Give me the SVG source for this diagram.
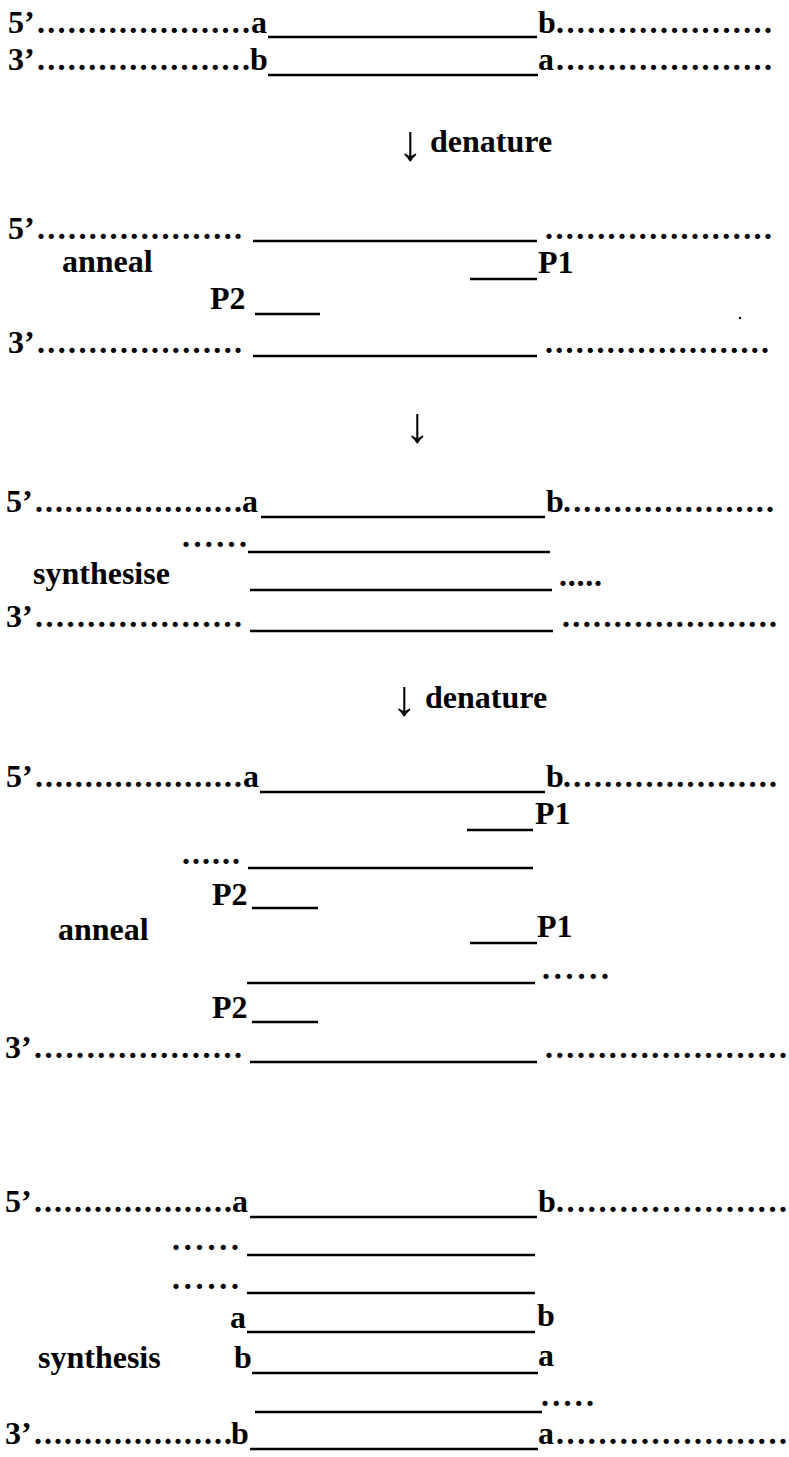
<svg xmlns="http://www.w3.org/2000/svg" width="789" height="1457" viewBox="0 0 789 1457">
<style>
.t{font-family:"Liberation Serif","Times New Roman",serif;font-weight:bold;font-size:32px;fill:#000}
.d{font-family:"Liberation Serif","Times New Roman",serif;font-weight:bold;font-size:32px;fill:#000}
.ar{font-family:"Liberation Serif","Times New Roman",serif;font-size:50px;fill:#000}
.s{stroke:#000;stroke-width:2.5;fill:none}
</style>
<rect width="789" height="1457" fill="#fff"/>
<g id="section1">
 <g id="s1-top">
  <text class="t" x="8" y="33">5’</text>
  <text class="d" x="37" y="33" textLength="213" lengthAdjust="spacing">.....................</text>
  <text class="t" x="251" y="33">a</text>
  <line class="s" x1="268" y1="37" x2="537" y2="37"/>
  <text class="t" x="538" y="33">b</text>
  <text class="d" x="556" y="33" textLength="216" lengthAdjust="spacing">.....................</text>
 </g>
 <g id="s1-bottom">
  <text class="t" x="8" y="70">3’</text>
  <text class="d" x="37" y="70" textLength="213" lengthAdjust="spacing">.....................</text>
  <text class="t" x="250" y="70">b</text>
  <line class="s" x1="268" y1="75" x2="538" y2="75"/>
  <text class="t" x="538" y="70">a</text>
  <text class="d" x="556" y="70" textLength="216" lengthAdjust="spacing">.....................</text>
 </g>
</g>
<g id="section2">
 <g id="s2-top">
  <text class="t" x="8" y="239">5’</text>
  <text class="d" x="37" y="239" textLength="205" lengthAdjust="spacing">....................</text>
  <line class="s" x1="253" y1="241" x2="537" y2="241"/>
  <text class="d" x="545" y="239" textLength="227" lengthAdjust="spacing">......................</text>
 </g>
 <text class="t" x="62" y="272">anneal</text>
 <g id="s2-p1">
  <line class="s" x1="470" y1="279" x2="537" y2="279"/>
  <text class="t" x="538" y="273">P1</text>
 </g>
 <g id="s2-p2">
  <text class="t" x="210" y="309">P2</text>
  <line class="s" x1="255" y1="314" x2="320" y2="314"/>
 </g>
 <circle cx="740" cy="318" r="1.2" fill="#000"/>
 <g id="s2-bottom">
  <text class="t" x="8" y="353">3’</text>
  <text class="d" x="37" y="353" textLength="205" lengthAdjust="spacing">....................</text>
  <line class="s" x1="253" y1="356" x2="537" y2="356"/>
  <text class="d" x="545" y="353" textLength="224" lengthAdjust="spacing">......................</text>
 </g>
</g>
<g id="section3">
 <g id="s3-top">
  <text class="t" x="6" y="512">5’</text>
  <text class="d" x="35" y="512" textLength="207" lengthAdjust="spacing">.....................</text>
  <text class="t" x="242" y="512">a</text>
  <line class="s" x1="261" y1="517" x2="545" y2="517"/>
  <text class="t" x="546" y="512">b</text>
  <text class="d" x="563" y="512" textLength="211" lengthAdjust="spacing">.....................</text>
 </g>
 <g id="s3-new1">
  <text class="d" x="182" y="547" textLength="65" lengthAdjust="spacing">......</text>
  <line class="s" x1="248" y1="552" x2="550" y2="552"/>
 </g>
 <text class="t" x="33" y="584">synthesise</text>
 <g id="s3-new2">
  <line class="s" x1="250" y1="590" x2="552" y2="590"/>
  <text class="d" x="559" y="586" textLength="43" lengthAdjust="spacing">.....</text>
 </g>
 <g id="s3-bottom">
  <text class="t" x="6" y="627">3’</text>
  <text class="d" x="35" y="627" textLength="207" lengthAdjust="spacing">....................</text>
  <line class="s" x1="250" y1="631" x2="553" y2="631"/>
  <text class="d" x="562" y="627" textLength="215" lengthAdjust="spacing">.....................</text>
 </g>
</g>
<g id="section4">
 <g id="s4-top">
  <text class="t" x="6" y="787">5’</text>
  <text class="d" x="35" y="787" textLength="207" lengthAdjust="spacing">.....................</text>
  <text class="t" x="243" y="787">a</text>
  <line class="s" x1="260" y1="792" x2="545" y2="792"/>
  <text class="t" x="546" y="787">b</text>
  <text class="d" x="563" y="787" textLength="214" lengthAdjust="spacing">.....................</text>
 </g>
 <g id="s4-p1a">
  <line class="s" x1="467" y1="830" x2="533" y2="830"/>
  <text class="t" x="535" y="824">P1</text>
 </g>
 <g id="s4-strand1">
  <text class="d" x="182" y="864" textLength="58" lengthAdjust="spacing">......</text>
  <line class="s" x1="248" y1="868" x2="533" y2="868"/>
 </g>
 <g id="s4-p2a">
  <text class="t" x="212" y="905">P2</text>
  <line class="s" x1="252" y1="908" x2="318" y2="908"/>
 </g>
 <text class="t" x="58" y="940">anneal</text>
 <g id="s4-p1b">
  <line class="s" x1="470" y1="943" x2="537" y2="943"/>
  <text class="t" x="537" y="937">P1</text>
 </g>
 <g id="s4-strand2">
  <line class="s" x1="247" y1="983" x2="535" y2="983"/>
  <text class="d" x="542" y="979" textLength="67" lengthAdjust="spacing">......</text>
 </g>
 <g id="s4-p2b">
  <text class="t" x="212" y="1018">P2</text>
  <line class="s" x1="252" y1="1022" x2="318" y2="1022"/>
 </g>
 <g id="s4-bottom">
  <text class="t" x="5" y="1058">3’</text>
  <text class="d" x="34" y="1058" textLength="208" lengthAdjust="spacing">....................</text>
  <line class="s" x1="250" y1="1062" x2="537" y2="1062"/>
  <text class="d" x="545" y="1058" textLength="242" lengthAdjust="spacing">.......................</text>
 </g>
</g>
<g id="section5">
 <g id="s5-top">
  <text class="t" x="5" y="1212">5’</text>
  <text class="d" x="34" y="1212" textLength="198" lengthAdjust="spacing">....................</text>
  <text class="t" x="232" y="1212">a</text>
  <line class="s" x1="250" y1="1217" x2="537" y2="1217"/>
  <text class="t" x="538" y="1212">b</text>
  <text class="d" x="556" y="1212" textLength="231" lengthAdjust="spacing">......................</text>
 </g>
 <g id="s5-strand1">
  <text class="d" x="172" y="1250" textLength="67" lengthAdjust="spacing">......</text>
  <line class="s" x1="247" y1="1255" x2="535" y2="1255"/>
 </g>
 <g id="s5-strand2">
  <text class="d" x="172" y="1289" textLength="67" lengthAdjust="spacing">......</text>
  <line class="s" x1="247" y1="1293" x2="535" y2="1293"/>
 </g>
 <g id="s5-product1">
  <text class="t" x="230" y="1328">a</text>
  <line class="s" x1="247" y1="1332" x2="535" y2="1332"/>
  <text class="t" x="537" y="1326">b</text>
 </g>
 <text class="t" x="38" y="1368">synthesis</text>
 <g id="s5-product2">
  <text class="t" x="234" y="1368">b</text>
  <line class="s" x1="252" y1="1373" x2="538" y2="1373"/>
  <text class="t" x="538" y="1366">a</text>
 </g>
 <g id="s5-strand3">
  <line class="s" x1="255" y1="1412" x2="542" y2="1412"/>
  <text class="d" x="541" y="1406" textLength="53" lengthAdjust="spacing">.....</text>
 </g>
 <g id="s5-bottom">
  <text class="t" x="5" y="1444">3’</text>
  <text class="d" x="34" y="1444" textLength="198" lengthAdjust="spacing">....................</text>
  <text class="t" x="231" y="1444">b</text>
  <line class="s" x1="250" y1="1449" x2="538" y2="1449"/>
  <text class="t" x="538" y="1444">a</text>
  <text class="d" x="556" y="1444" textLength="231" lengthAdjust="spacing">......................</text>
 </g>
</g>
<g id="connectors">
 <text class="ar" x="398" y="160">↓</text>
 <text class="t" x="430" y="152">denature</text>
 <text class="ar" x="405" y="442">↓</text>
 <text class="ar" x="392" y="715">↓</text>
 <text class="t" x="425" y="708">denature</text>
</g>
</svg>
